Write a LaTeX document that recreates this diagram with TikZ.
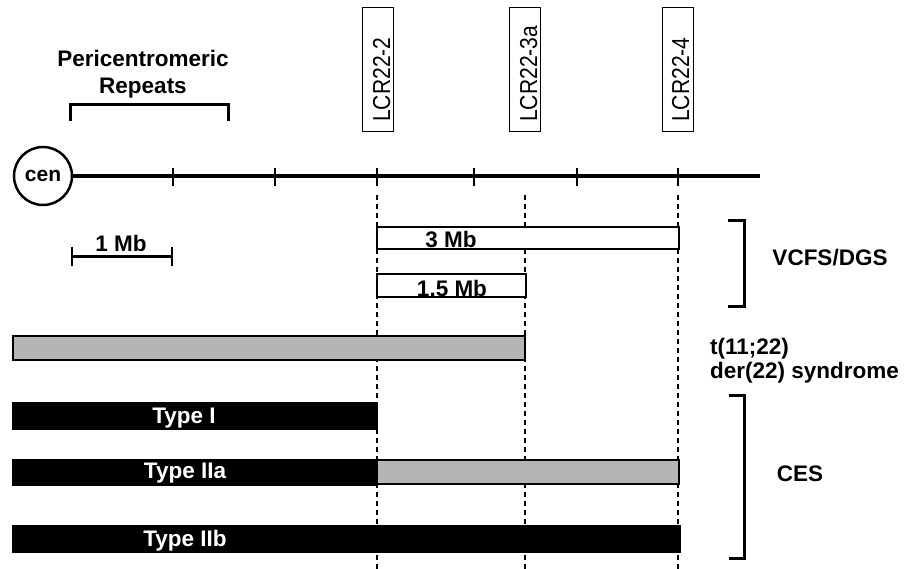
\documentclass[tikz,border=0pt]{standalone}
\usepackage{fontspec}
\setmainfont{Liberation Sans}
\newfontfamily\lcrfont[FakeStretch=0.86]{Liberation Sans}
\definecolor{bargray}{HTML}{B5B5B5}
\begin{document}
\begin{tikzpicture}[x=1pt,y=-1pt,
  lbl/.style={font=\bfseries\fontsize{22.5}{25}\selectfont, inner sep=0pt},
  lcrbox/.style={draw, line width=1pt, minimum width=31pt, minimum height=124pt, inner sep=0pt, outer sep=0pt},
  lcrtext/.style={font=\lcrfont\fontsize{24.5}{26}\selectfont, rotate=90, anchor=base west, inner sep=0pt},
  bar/.style={line width=1.8pt, inner sep=0pt, outer sep=0pt, anchor=north west},
  whitebar/.style={bar, draw=black, fill=white},
  graybar/.style={bar, draw=black, fill=bargray},
  blackbar/.style={bar, draw=black, fill=black},
  bracketline/.style={line width=3pt},
  tickline/.style={line width=2pt},
  dashline/.style={line width=1.4pt, dash pattern=on 5pt off 4pt},
  chromline/.style={line width=4pt}
]
\useasboundingbox (0,0) rectangle (906,569);

% centromere and chromosome line
\node[circle, draw, line width=2.5pt, minimum size=58pt, inner sep=0pt, font=\bfseries\fontsize{21}{24}\selectfont] (cen) at (43,176) {cen};
\coordinate (chromend) at (760,176);
\draw[chromline] (cen.east) -- (chromend);

% ticks
\foreach \x [count=\i] in {173,275,377,474,577,678}{
  \coordinate (tt\i) at (\x,168);
  \coordinate (tb\i) at (\x,186);
  \draw[tickline] (tt\i) -- (tb\i);
}

% pericentromeric repeats
\node[lbl, anchor=base] (peri1) at (143,67) {Pericentromeric};
\node[lbl, anchor=base] (peri2) at (143,94) {Repeats};
\coordinate (pb1) at (70,121);
\coordinate (pb2) at (70,105);
\coordinate (pb3) at (228,105);
\coordinate (pb4) at (228,121);
\draw[bracketline, line cap=butt] (pb1) -- (pb2) -- (pb3) -- (pb4);

% LCR boxes
\node[lcrbox] (lcr2) at (378,70) {};
\node[lcrtext] (lcr2t) at (390,122) {LCR22-2};
\node[lcrbox] (lcr3) at (525,70) {};
\node[lcrtext] (lcr3t) at (537,122) {LCR22-3a};
\node[lcrbox] (lcr4) at (677.5,70) {};
\node[lcrtext] (lcr4t) at (689,122) {LCR22-4};

% dashed lines
\foreach \x [count=\i] in {377,525,678}{
  \coordinate (dt\i) at (\x,195);
  \coordinate (db\i) at (\x,569);
  \draw[dashline] (dt\i) -- (db\i);
}

% 1 Mb scale bar
\coordinate (s1) at (72,257);
\coordinate (s2) at (172,257);
\coordinate (s1a) at (72,247);
\coordinate (s1b) at (72,266);
\coordinate (s2a) at (172,247);
\coordinate (s2b) at (172,266);
\draw[line width=3pt] (s1) -- (s2);
\draw[line width=2pt] (s1a) -- (s1b);
\draw[line width=2pt] (s2a) -- (s2b);
\node[lbl, anchor=base] (mbl) at (121,252) {1 Mb};

% VCFS/DGS deletions
\node[whitebar, minimum width=302pt, minimum height=22pt] (del3) at (377,227) {};
\node[lbl, anchor=base] (del3t) at (451,248) {3 Mb};
\node[whitebar, minimum width=149pt, minimum height=23pt] (del15) at (377,274) {};
\node[lbl, anchor=base] (del15t) at (452,297) {1.5 Mb};

% t(11;22) bar
\node[graybar, minimum width=512pt, minimum height=24pt] (tbar) at (13,336) {};

% CES bars
\node[blackbar, minimum width=364pt, minimum height=26pt] (t1) at (13,403) {};
\node[lbl, anchor=base, text=white] (t1t) at (184,424) {Type I};
\node[blackbar, minimum width=364pt, minimum height=25pt] (t2a) at (13,460) {};
\node[graybar, minimum width=302pt, minimum height=24pt] (t2ag) at (377,460) {};
\node[lbl, anchor=base, text=white] (t2at) at (185,479) {Type IIa};
\node[blackbar, minimum width=667pt, minimum height=26pt] (t2b) at (13,526) {};
\node[lbl, anchor=base, text=white] (t2bt) at (185,547) {Type IIb};

% right brackets and labels
\coordinate (v1) at (728,221);
\coordinate (v2) at (744,221);
\coordinate (v3) at (744,307);
\coordinate (v4) at (728,307);
\draw[bracketline] (v1) -- (v2) -- (v3) -- (v4);
\node[lbl, anchor=base] (vcfs) at (830,266) {VCFS/DGS};

\node[lbl, anchor=base west] (tl1) at (710,355) {t(11;22)};
\node[lbl, anchor=base west] (tl2) at (710,379) {der(22) syndrome};

\coordinate (c1) at (729,396);
\coordinate (c2) at (744,396);
\coordinate (c3) at (744,558);
\coordinate (c4) at (729,558);
\draw[bracketline] (c1) -- (c2) -- (c3) -- (c4);
\node[lbl, anchor=base] (ces) at (800,482) {CES};
\end{tikzpicture}
\end{document}
